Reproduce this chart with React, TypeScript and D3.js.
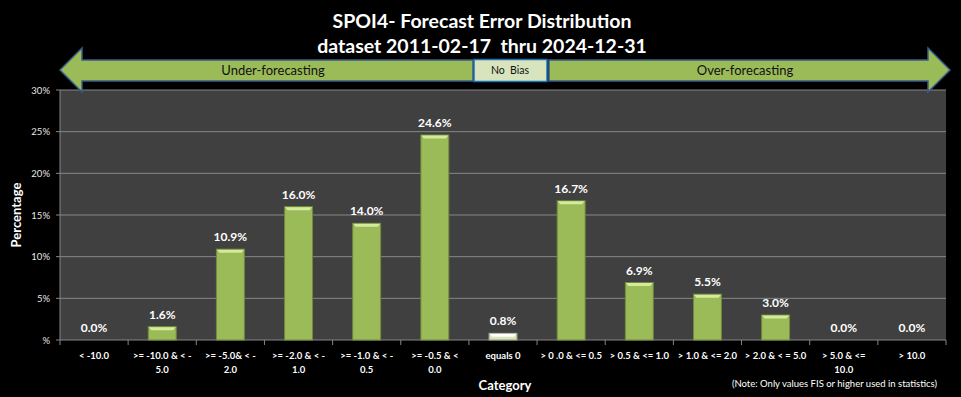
import { useEffect, useRef } from 'react';
import * as d3 from 'd3';

const categories: string[][] = [
  ['< -10.0'],
  ['>= -10.0 & < -', '5.0'],
  ['>= -5.0& < -', '2.0'],
  ['>= -2.0 & < -', '1.0'],
  ['>= -1.0 & < -', '0.5'],
  ['>= -0.5 & <', '0.0'],
  ['equals 0'],
  ['> 0 .0 & <= 0.5'],
  ['> 0.5 & <= 1.0'],
  ['> 1.0 & <= 2.0'],
  ['> 2.0 & < = 5.0'],
  ['> 5.0 & <=', '10.0'],
  ['> 10.0'],
];
const percentages = [0.0, 1.6, 10.9, 16.0, 14.0, 24.6, 0.8, 16.7, 6.9, 5.5, 3.0, 0.0, 0.0];
const yTicks = [0, 5, 10, 15, 20, 25, 30];
const titleLines = ['SPOI4- Forecast Error Distribution', 'dataset 2011-02-17  thru 2024-12-31'];

function App() {
  const svgRef = useRef<SVGSVGElement | null>(null);
  const width = 961;
  const height = 397;
  const margin = { top: 90, right: 15, bottom: 57, left: 60 };
  const font = 'Lato, "Open Sans", sans-serif';

  useEffect(() => {
    const svg = d3.select(svgRef.current);
    svg.selectAll('*').remove();
    svg.append('rect').attr('width', width).attr('height', height).attr('fill', '#000');

    const keys = categories.map((c, i) => String(i));
    const rows = percentages.map((v, i) => ({ key: String(i), v, zero: i === 6 }));

    const xScale = d3
      .scaleBand()
      .domain(keys)
      .range([margin.left, width - margin.right])
      .paddingInner(0.59)
      .paddingOuter(0.295);
    const outer = d3.scaleBand().domain(keys).range([margin.left, width - margin.right]);

    const yScale = d3.scaleLinear().domain([0, 30]).range([height - margin.bottom, margin.top]);

    // title
    svg
      .append('g')
      .selectAll('text')
      .data(titleLines)
      .enter()
      .append('text')
      .attr('x', 482)
      .attr('y', (d, i) => 28 + i * 25)
      .attr('text-anchor', 'middle')
      .attr('fill', '#fff')
      .attr('font-family', font)
      .attr('font-weight', 'bold')
      .attr('font-size', 19.5)
      .style('white-space', 'pre')
      .text((d) => d);

    // plot area
    svg
      .append('rect')
      .attr('x', margin.left)
      .attr('y', margin.top)
      .attr('width', width - margin.left - margin.right)
      .attr('height', height - margin.top - margin.bottom)
      .attr('fill', '#404040');

    svg
      .append('g')
      .selectAll('line')
      .data(yTicks.filter((t) => t > 0))
      .enter()
      .append('line')
      .attr('x1', margin.left)
      .attr('x2', width - margin.right)
      .attr('y1', (d) => yScale(d))
      .attr('y2', (d) => yScale(d))
      .attr('stroke', '#868686')
      .attr('stroke-width', 1);

    // y axis
    const yAxis = svg.append('g');
    yAxis
      .append('line')
      .attr('x1', margin.left)
      .attr('x2', margin.left)
      .attr('y1', margin.top)
      .attr('y2', yScale(0))
      .attr('stroke', '#868686');
    yAxis
      .selectAll('line.tick')
      .data(yTicks)
      .enter()
      .append('line')
      .attr('class', 'tick')
      .attr('x1', margin.left - 4)
      .attr('x2', margin.left)
      .attr('y1', (d) => yScale(d))
      .attr('y2', (d) => yScale(d))
      .attr('stroke', '#868686');
    yAxis
      .selectAll('text')
      .data(yTicks)
      .enter()
      .append('text')
      .attr('x', margin.left - 10)
      .attr('y', (d) => yScale(d) + 3.5)
      .attr('text-anchor', 'end')
      .attr('fill', '#e6e6e6')
      .attr('font-family', font)
      .attr('font-size', 9.5)
      .text((d) => (d === 0 ? '%' : `${d}%`));

    svg
      .append('text')
      .attr('transform', `translate(21,${(margin.top + yScale(0)) / 2}) rotate(-90)`)
      .attr('text-anchor', 'middle')
      .attr('fill', '#fff')
      .attr('font-family', font)
      .attr('font-weight', 'bold')
      .attr('font-size', 13)
      .text('Percentage');

    // x axis
    const xAxis = svg.append('g');
    xAxis
      .append('line')
      .attr('x1', margin.left)
      .attr('x2', width - margin.right)
      .attr('y1', yScale(0))
      .attr('y2', yScale(0))
      .attr('stroke', '#868686');
    const tickXs = [...keys.map((k) => outer(k) as number), width - margin.right];
    xAxis
      .selectAll('line.tick')
      .data(tickXs)
      .enter()
      .append('line')
      .attr('class', 'tick')
      .attr('x1', (d) => d)
      .attr('x2', (d) => d)
      .attr('y1', yScale(0))
      .attr('y2', yScale(0) + 5)
      .attr('stroke', '#868686');
    xAxis
      .selectAll('text')
      .data(categories)
      .enter()
      .append('text')
      .attr('x', (d, i) => (outer(String(i)) as number) + outer.bandwidth() / 2)
      .attr('y', yScale(0) + 19)
      .attr('text-anchor', 'middle')
      .attr('fill', '#fff')
      .attr('font-family', font)
      .attr('font-weight', 'bold')
      .attr('font-size', 9.5)
      .each(function (d) {
        const t = d3.select(this);
        d.forEach((line, j) => {
          t.append('tspan')
            .attr('x', t.attr('x'))
            .attr('dy', j === 0 ? 0 : 14)
            .text(line);
        });
      });

    svg
      .append('text')
      .attr('x', 505)
      .attr('y', 390)
      .attr('text-anchor', 'middle')
      .attr('fill', '#fff')
      .attr('font-family', font)
      .attr('font-weight', 'bold')
      .attr('font-size', 13)
      .text('Category');

    svg
      .append('text')
      .attr('x', 937)
      .attr('y', 387)
      .attr('text-anchor', 'end')
      .attr('fill', '#fff')
      .attr('font-family', font)
      .attr('font-size', 9.5)
      .text('(Note: Only values FIS or higher used in statistics)');

    // bars
    const nonZero = rows.filter((r) => r.v > 0);
    const bars = svg.append('g');
    bars
      .selectAll('rect')
      .data(nonZero)
      .enter()
      .append('rect')
      .attr('x', (d) => xScale(d.key) as number)
      .attr('y', (d) => yScale(d.v))
      .attr('width', xScale.bandwidth())
      .attr('height', (d) => yScale(0) - yScale(d.v))
      .attr('fill', (d) => (d.zero ? '#d7e4bd' : '#9bbb59'))
      .attr('stroke', (d) => (d.zero ? '#98a585' : '#71893f'))
      .attr('stroke-width', 1);
    bars
      .selectAll('path')
      .data(nonZero)
      .enter()
      .append('path')
      .attr('d', (d) => {
        const x0 = xScale(d.key) as number;
        const x1 = x0 + xScale.bandwidth();
        const y0 = yScale(d.v);
        return `M${x0 + 0.5},${y0 + 0.5} L${x1 - 0.5},${y0 + 0.5} L${x1 - 3},${y0 + 3.5} L${x0 + 3},${y0 + 3.5} Z`;
      })
      .attr('fill', (d) => (d.zero ? '#ffffff' : '#d4eb9c'));

    // value labels
    svg
      .append('g')
      .selectAll('text')
      .data(rows)
      .enter()
      .append('text')
      .attr('x', (d) => (xScale(d.key) as number) + xScale.bandwidth() / 2)
      .attr('y', (d) => yScale(d.v) - 8)
      .attr('text-anchor', 'middle')
      .attr('fill', '#fff')
      .attr('font-family', font)
      .attr('font-weight', 'bold')
      .attr('font-size', 12)
      .text((d) => `${d.v.toFixed(1)}%`);

    // bias arrows
    const arrows = svg.append('g');
    arrows
      .append('path')
      .attr('d', 'M60,70 L82,48 L82,60 L473,60 L473,81 L82,81 L82,92 Z')
      .attr('fill', '#9bbb59')
      .attr('stroke', '#385d8a')
      .attr('stroke-width', 1.5);
    arrows
      .append('path')
      .attr('d', 'M950,70 L928,48 L928,60 L549,60 L549,81 L928,81 L928,92 Z')
      .attr('fill', '#9bbb59')
      .attr('stroke', '#385d8a')
      .attr('stroke-width', 1.5);
    arrows
      .append('rect')
      .attr('x', 474)
      .attr('y', 59.5)
      .attr('width', 73)
      .attr('height', 22)
      .attr('fill', '#d7e4bd')
      .attr('stroke', '#1f6fb5')
      .attr('stroke-width', 1.5);
    const arrowText = [
      { t: 'Under-forecasting', x: 273, s: 13 },
      { t: 'No  Bias', x: 510, s: 10.5 },
      { t: 'Over-forecasting', x: 745, s: 13 },
    ];
    arrows
      .selectAll('text')
      .data(arrowText)
      .enter()
      .append('text')
      .attr('x', (d) => d.x)
      .attr('y', (d) => (d.s > 12 ? 75 : 74))
      .attr('text-anchor', 'middle')
      .attr('fill', '#111')
      .attr('font-family', font)
      .attr('font-size', (d) => d.s)
      .style('white-space', 'pre')
      .text((d) => d.t);
  }, []);

  return (
    <svg
      ref={svgRef}
      width={width}
      height={height}
      style={{ position: 'absolute', left: 0, top: 0, display: 'block' }}
    />
  );
}

export default App;
